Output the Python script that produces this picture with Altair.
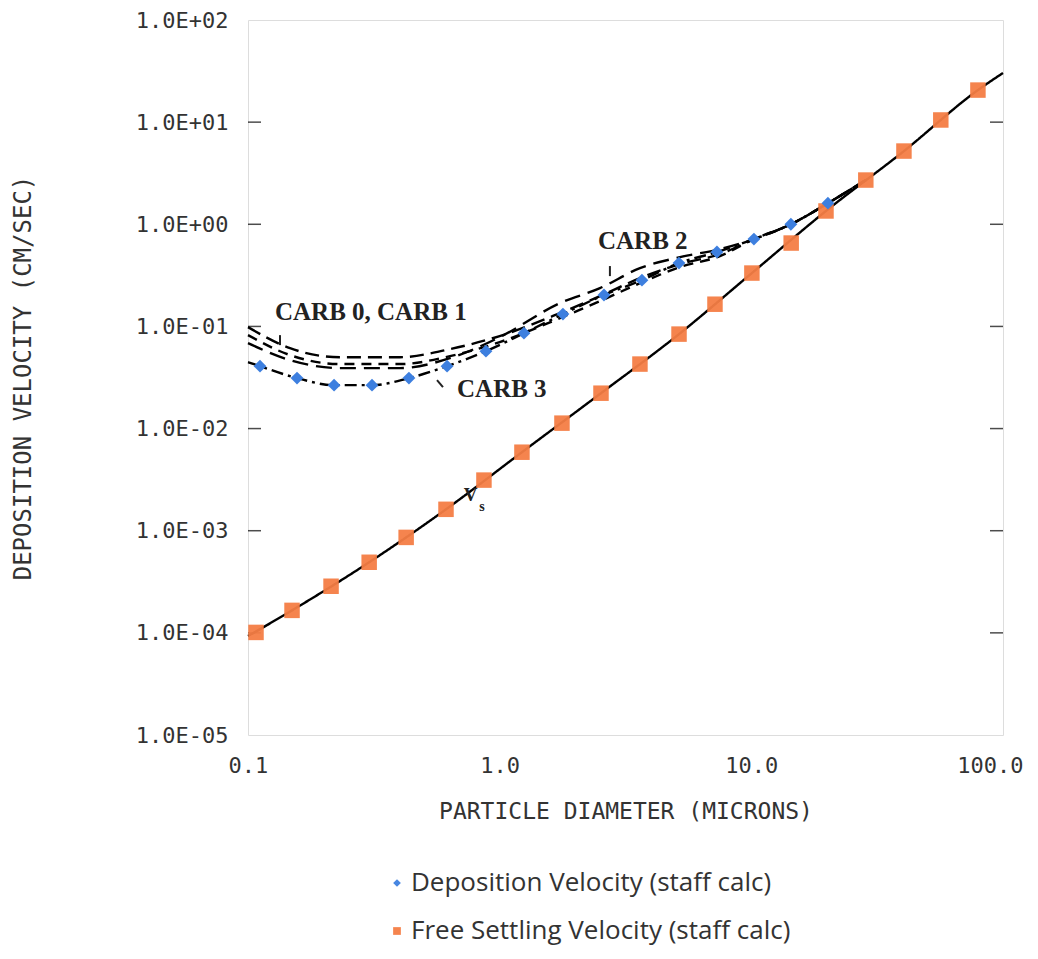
import altair as alt
import pandas as pd

# ---------------- data ----------------
# Free settling velocity (orange squares)
settle_x = [0.1076, 0.1496, 0.2138, 0.303, 0.425, 0.612, 0.866, 1.226, 1.768, 2.527,
            3.609, 5.16, 7.17, 10.05, 14.4, 19.8, 28.5, 40.4, 56.6, 79.5]
settle_y = [1.01e-4, 1.66e-4, 2.86e-4, 4.91e-4, 8.6e-4, 1.62e-3, 3.13e-3, 5.87e-3, 0.0113, 0.0222,
            0.0428, 0.0841, 0.165, 0.333, 0.655, 1.35, 2.71, 5.21, 10.5, 20.6]

# Vs solid line (through the squares, to the frame edges)
vs_x = [0.1, 0.1496, 0.303, 0.612, 1.226, 2.527, 5.16, 10.05, 19.8, 40.4, 79.5, 100.0]
vs_y = [9.3e-5, 1.66e-4, 4.91e-4, 1.62e-3, 5.87e-3, 0.0222, 0.0841, 0.333, 1.35, 5.21, 20.6, 30.3]

# Deposition velocity (blue diamonds)
dep_x = [0.1116, 0.1566, 0.2198, 0.311, 0.436, 0.618, 0.882, 1.249, 1.784, 2.597,
         3.675, 5.158, 7.30, 10.24, 14.36, 20.15]
dep_y = [0.0408, 0.0312, 0.0266, 0.0266, 0.0312, 0.0408, 0.0573, 0.0859, 0.132, 0.203,
         0.284, 0.417, 0.535, 0.716, 1.00, 1.61]

# CARB curves (dashed)
carb_x = [0.1, 0.1469, 0.2319, 0.4017, 0.6346, 1.0, 1.736, 2.503, 3.609, 5.205, 7.505,
          10.24, 14.36, 20.15, 28.5]
carb0_y = [0.0984, 0.0612, 0.0500, 0.0500, 0.0600, 0.0804, 0.135, 0.198, 0.297, 0.407, 0.511,
           0.716, 1.00, 1.61, 2.71]
carb1_y = [0.0822, 0.0524, 0.0428, 0.0428, 0.0512, 0.0702, 0.1205, 0.177, 0.265, 0.381, 0.488,
           0.716, 1.00, 1.61, 2.71]
carb2_y = [0.0686, 0.0468, 0.0391, 0.0391, 0.0489, 0.0785, 0.169, 0.237, 0.372, 0.477, 0.571,
           0.716, 1.00, 1.61, 2.71]
carb3_x = [0.1] + dep_x + [28.5]
carb3_y = [0.0447] + dep_y + [2.71]

# annotations
ann_text = ["CARB 0, CARB 1", "CARB 2", "CARB 3"]
ann_x = [0.128, 2.458, 0.677]
ann_y = [0.138, 0.685, 0.0243]

# small pointer strokes next to the annotations
ptr_x = [0.134, 2.742, 0.5636]
ptr_x2 = [0.134, 2.742, 0.5953]
ptr_y = [0.0822, 0.39, 0.0298]
ptr_y2 = [0.0656, 0.311, 0.0254]

# Vs label
vs_lab_text = ["V", "s"]
vs_lab_x = [0.72, 0.83]
vs_lab_y = [2.25e-3, 1.72e-3]
vs_lab_size = [19, 14]

# frame ticks
frame_tick_x = [0.1, 100.0]
frame_tick_y = [1e-4, 1e-3, 1e-2, 1e-1, 1e0, 1e1]

x_ticks = [0.1, 1.0, 10.0, 100.0]
y_ticks = [1e-5, 1e-4, 1e-3, 1e-2, 1e-1, 1e0, 1e1, 1e2]

dep_label = "Deposition Velocity (staff calc)"
settle_label = "Free Settling Velocity (staff calc)"

BLUE = "#3d7fdf"
ORANGE = "#f47d44"
MONO = "DejaVu Sans Mono"

# ---------------- tables ----------------
lines_rows = []
for name, xs, ys in [("Vs", vs_x, vs_y), ("CARB 0", carb_x, carb0_y), ("CARB 1", carb_x, carb1_y),
                     ("CARB 2", carb_x, carb2_y), ("CARB 3", carb3_x, carb3_y)]:
    for i, (a, b) in enumerate(zip(xs, ys)):
        lines_rows.append({"curve": name, "x": a, "y": b, "o": i})
lines_df = pd.DataFrame(lines_rows)

settle_df = pd.DataFrame({"series": settle_label, "x": settle_x, "y": settle_y})
dep_df = pd.DataFrame({"series": dep_label, "x": dep_x, "y": dep_y})

ann_df = pd.DataFrame({"t": ann_text, "x": ann_x, "y": ann_y})
ptr_df = pd.DataFrame({"x": ptr_x, "x2": ptr_x2, "y": ptr_y, "y2": ptr_y2})
vs_df = pd.DataFrame({"t": vs_lab_text, "x": vs_lab_x, "y": vs_lab_y, "s": vs_lab_size})
ft_df = pd.DataFrame([{"x": a, "y": b} for a in frame_tick_x for b in frame_tick_y])

xscale = alt.Scale(type="log", domain=[0.1, 100], nice=False)
yscale = alt.Scale(type="log", domain=[1e-5, 1e2], nice=False)

exp = "round(log(datum.value)/LN10)"
ylabel_expr = ("'1.0E' + (%s < 0 ? '-' : '+') + (abs(%s) < 10 ? '0' : '') + abs(%s)" % (exp, exp, exp))

X = alt.X("x:Q", scale=xscale, axis=alt.Axis(
    values=x_ticks, labelExpr="format(datum.value, '.1f')", title="PARTICLE DIAMETER (MICRONS)",
    labelFont=MONO, labelFontSize=22, labelColor="#333", titleFont=MONO, titleFontSize=23,
    titleFontWeight="normal", titleColor="#333", ticks=False, domain=False, grid=False,
    labelPadding=20, titlePadding=24, labelOverlap=False, labelFlush=True, labelFlushOffset=20))
Y = alt.Y("y:Q", scale=yscale, axis=alt.Axis(
    values=y_ticks, labelExpr=ylabel_expr, title="DEPOSITION VELOCITY (CM/SEC)",
    labelFont=MONO, labelFontSize=22, labelColor="#333", titleFont=MONO, titleFontSize=24,
    titleFontWeight="normal", titleColor="#333", ticks=False, domain=False, grid=False,
    labelPadding=20, titlePadding=100, labelOverlap=False, labelBaseline="middle"))

lines = alt.Chart(lines_df).mark_line(interpolate="monotone", color="black", strokeWidth=2.4).encode(
    x=X, y=Y, order="o:Q",
    detail="curve:N",
    strokeDash=alt.StrokeDash("curve:N", scale=alt.Scale(
        domain=["Vs", "CARB 0", "CARB 1", "CARB 2", "CARB 3"],
        range=[[1, 0], [14, 7], [10, 7], [16, 8], [12, 5, 3, 5]]), legend=None),
)

leg = alt.Legend(title=None, orient="none", legendX=136, legendY=850, labelFont="Open Sans",
                 labelFontSize=26, labelColor="#333", symbolSize=60, rowPadding=22,
                 labelOffset=1, symbolStrokeWidth=0, direction="vertical", labelLimit=0)
color_enc = alt.Color("series:N", scale=alt.Scale(domain=[dep_label, settle_label], range=[BLUE, ORANGE]), legend=leg)
shape_enc = alt.Shape("series:N", scale=alt.Scale(domain=[dep_label, settle_label], range=["diamond", "square"]), legend=leg)

squares = alt.Chart(settle_df).mark_point(filled=True, opacity=0.95, size=240).encode(
    x="x:Q", y="y:Q", color=color_enc, shape=shape_enc)
diamonds = alt.Chart(dep_df).mark_point(filled=True, opacity=1, size=165).encode(
    x="x:Q", y="y:Q", color=color_enc, shape=shape_enc)

ann = alt.Chart(ann_df).mark_text(font="Liberation Serif", fontWeight="bold", fontSize=25,
                                  align="left", baseline="middle", color="#222").encode(
    x="x:Q", y="y:Q", text="t:N")
ptr = alt.Chart(ptr_df).mark_rule(color="#222", strokeWidth=2).encode(x="x:Q", x2="x2:Q", y="y:Q", y2="y2:Q")
vslab = alt.Chart(vs_df).mark_text(font="Liberation Serif", fontWeight="bold", align="left",
                                   baseline="middle", color="#222").encode(
    x="x:Q", y="y:Q", text="t:N", size=alt.Size("s:Q", scale=None, legend=None))
fticks = alt.Chart(ft_df).mark_tick(orient="horizontal", size=26, thickness=1.5, color="black", clip=True).encode(
    x="x:Q", y="y:Q")

chart = alt.layer(fticks, lines, squares, diamonds, ann, ptr, vslab).properties(
    width=755, height=715,
    autosize=alt.AutoSizeParams(type="none"),
    padding={"left": 240, "top": 12, "right": 22, "bottom": 211},
).configure_view(stroke="black", strokeWidth=2).configure(background="white")

chart.save("out.html", embed_options={"renderer": "svg", "actions": False})
